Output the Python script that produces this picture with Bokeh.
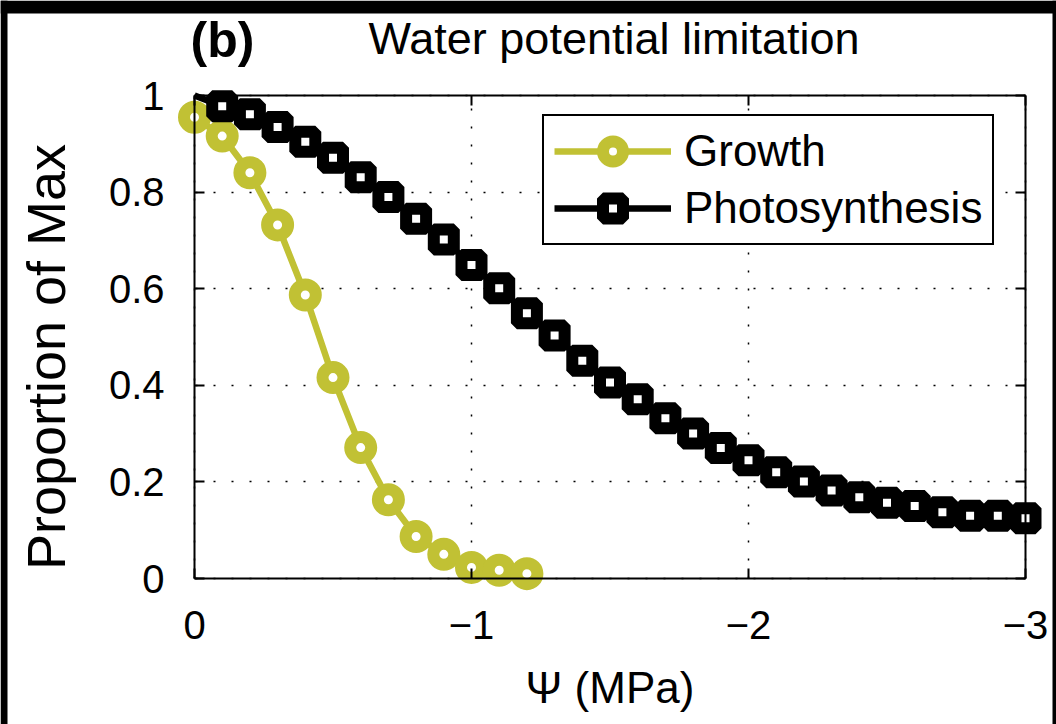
import math
from bokeh.plotting import figure
from bokeh.models import (Range1d, LinearAxis, FixedTicker, Legend, LegendItem,
                          Label, BoxAnnotation, Grid)
from bokeh.embed import file_html
from bokeh.resources import INLINE

# ---- data ----
psi_growth = [0.0, -0.1, -0.2, -0.3, -0.4, -0.5, -0.6, -0.7, -0.8, -0.9, -1.0, -1.1, -1.2]
growth = [0.955, 0.916, 0.840, 0.732, 0.587, 0.416, 0.271, 0.163, 0.087, 0.050, 0.023, 0.017, 0.010]

psi_photo = [0.0, -0.1, -0.2, -0.3, -0.4, -0.5, -0.6, -0.7, -0.8, -0.9, -1.0,
             -1.1, -1.2, -1.3, -1.4, -1.5, -1.6, -1.7, -1.8, -1.9, -2.0,
             -2.1, -2.2, -2.3, -2.4, -2.5, -2.6, -2.7, -2.8, -2.9, -3.0]
photo = [1.000, 0.978, 0.961, 0.935, 0.904, 0.871, 0.831, 0.790, 0.745, 0.702, 0.649,
         0.601, 0.549, 0.503, 0.451, 0.406, 0.371, 0.332, 0.300, 0.270, 0.245,
         0.220, 0.201, 0.182, 0.168, 0.157, 0.150, 0.137, 0.130, 0.130, 0.125]

x_ticks = [0, -1, -2, -3]
x_tick_labels = ["0", "\u22121", "\u22122", "\u22123"]
y_ticks = [0, 0.2, 0.4, 0.6, 0.8, 1]
y_tick_labels = ["0", "0.2", "0.4", "0.6", "0.8", "1"]

title_text = "Water potential limitation"
panel_tag = "(b)"
x_label = "\u03a8 (MPa)"
y_label = "Proportion of Max"
series_names = ["Growth", "Photosynthesis"]

OLIVE = "#c1c134"
FONT = "Liberation Sans"

# axes box occupies px 194..1025 (x) and 95..578 (y) of the 1056x724 canvas
X0, X1 = 0.0, -3.0
Y0, Y1 = 0.0, 1.0
kx = (1025 - 194) / (X0 - X1)
ky = (578 - 95) / (Y1 - Y0)
x_range = Range1d(X0 + 194 / kx, X1 - (1056 - 1025) / kx)
y_range = Range1d(Y0 - (724 - 578) / ky, Y1 + 95 / ky)

p = figure(width=1056, height=724, x_range=x_range, y_range=y_range,
           output_backend="svg", toolbar_location=None,
           x_axis_location=None, y_axis_location=None,
           min_border=0)
p.title.visible = False
p.background_fill_color = "white"
p.border_fill_color = "white"
p.outline_line_color = None

# grids limited to the axes box
p.xgrid.ticker = FixedTicker(ticks=x_ticks)
p.ygrid.ticker = FixedTicker(ticks=y_ticks)
use_cross = "cross_bounds" in Grid.properties()
for g in (p.xgrid, p.ygrid):
    g.grid_line_color = "black"
    g.grid_line_dash = "2 16"
    g.grid_line_width = 1.5
if use_cross:
    p.xgrid.cross_bounds = (Y0, Y1)
    p.ygrid.cross_bounds = (X1, X0)
    p.xgrid.bounds = (X1, X0)
    p.ygrid.bounds = (Y0, Y1)
else:
    p.xgrid.visible = False
    p.ygrid.visible = False
    inner_x = x_ticks[1:-1]
    inner_y = y_ticks[1:-1]
    p.segment(x0=inner_x, y0=[Y0] * len(inner_x), x1=inner_x, y1=[Y1] * len(inner_x),
              line_color="black", line_dash="2 16", line_width=1.5, level="underlay")
    p.segment(x0=[X0] * len(inner_y), y0=inner_y, x1=[X1] * len(inner_y), y1=inner_y,
              line_color="black", line_dash="2 16", line_width=1.5, level="underlay")

def make_axis(ticks, labels, show_labels, bounds, loc):
    ax = LinearAxis(ticker=FixedTicker(ticks=ticks), bounds=bounds, fixed_location=loc)
    ax.major_tick_in = 10
    ax.major_tick_out = 0
    ax.minor_tick_in = 0
    ax.minor_tick_out = 0
    ax.major_tick_line_width = 2
    ax.major_tick_line_color = "black"
    ax.axis_line_width = 2
    ax.axis_line_color = "black"
    if show_labels:
        ax.major_label_overrides = {t: l for t, l in zip(ticks, labels)}
        ax.major_label_text_font = FONT
        ax.major_label_text_font_size = "40px"
        ax.major_label_text_color = "black"
        ax.major_label_standoff = 32
    else:
        ax.major_label_text_font_size = "0px"
        ax.major_label_standoff = 0
    return ax

bx = make_axis(x_ticks, x_tick_labels, True, (X1, X0), Y0)
bx.axis_label = x_label
bx.axis_label_text_font = FONT
bx.axis_label_text_font_size = "44px"
bx.axis_label_text_font_style = "normal"
bx.axis_label_text_color = "black"
bx.axis_label_standoff = 21
p.add_layout(bx, "below")

ly = make_axis(y_ticks, y_tick_labels, True, (Y0, Y1), X0)
ly.major_label_standoff = 30
p.add_layout(ly, "left")

p.add_layout(make_axis(x_ticks, x_tick_labels, False, (X1, X0), Y1), "above")
p.add_layout(make_axis(y_ticks, y_tick_labels, False, (Y0, Y1), X1), "right")

# y-axis title (sits a little below the axis centre in the reference)
p.add_layout(Label(x=X0, y=(Y0 + Y1) / 2, x_offset=-149, y_offset=-20, angle=math.pi / 2,
                   text=y_label, text_font=FONT, text_font_size="54px",
                   text_baseline="middle", text_align="center", text_color="black"))

# series
g_line = p.line(psi_growth, growth, line_color=OLIVE, line_width=6.5)
g_pts = p.scatter(psi_growth, growth, marker="circle", size=21,
                  line_color=OLIVE, line_width=12, fill_color="white")
p_line = p.line(psi_photo, photo, line_color="black", line_width=6.5)
p_pts = p.scatter(psi_photo[1:], photo[1:], marker="square", size=20,
                  line_color="black", line_width=12, fill_color="white")

legend = Legend(items=[LegendItem(label=series_names[0], renderers=[g_line, g_pts]),
                       LegendItem(label=series_names[1], renderers=[p_line, p_pts])],
                location=(542, 724 - 245))
legend.label_text_font = FONT
legend.label_text_font_size = "44px"
legend.label_text_color = "black"
legend.glyph_width = 117
legend.glyph_height = 50
legend.label_standoff = 13
legend.spacing = 7
legend.padding = 10
legend.margin = 0
legend.border_line_color = "black"
legend.border_line_alpha = 1
legend.border_line_width = 2
legend.background_fill_color = "white"
legend.background_fill_alpha = 1
p.add_layout(legend, "center")

# title and panel tag
p.add_layout(Label(x=(X0 + X1) / 2, y=Y1, x_offset=4, y_offset=57, text=title_text,
                   text_font=FONT, text_font_size="45px", text_font_style="normal",
                   text_baseline="alphabetic", text_align="center", text_color="black"))
p.add_layout(Label(x=X0, y=Y1, x_offset=-4, y_offset=56, text=panel_tag,
                   text_font=FONT, text_font_size="50px", text_font_style="bold",
                   text_baseline="alphabetic", text_align="left", text_color="black"))

# dark edge of the scanned page (top, left, right)
p.add_layout(BoxAnnotation(bottom=Y1 + (95 - 13) / ky, fill_color="black", fill_alpha=1, line_alpha=0))
p.add_layout(BoxAnnotation(right=X0 + (194 - 7) / kx, fill_color="black", fill_alpha=1, line_alpha=0))
p.add_layout(BoxAnnotation(left=X0 - (1052 - 194) / kx, fill_color="black", fill_alpha=1, line_alpha=0))

open("out.html", "w").write(file_html(p, INLINE))
